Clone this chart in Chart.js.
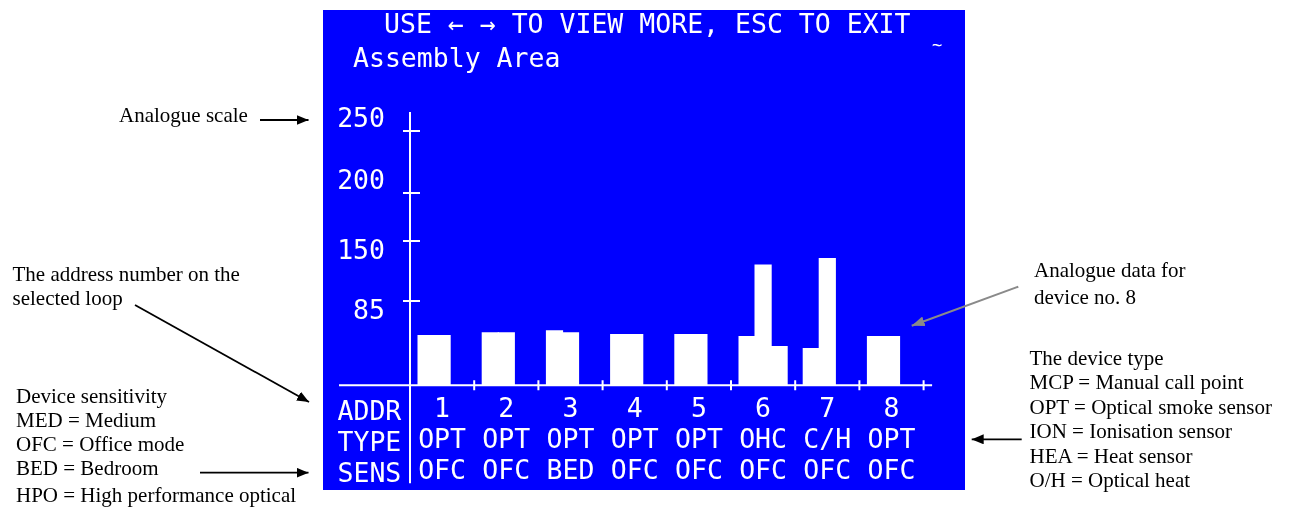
<!DOCTYPE html>
<html>
<head>
<meta charset="utf-8">
<script src="https://cdn.jsdelivr.net/npm/chart.js@4.4.1/dist/chart.umd.min.js"></script>
<style>
html,body{margin:0;padding:0;background:#fff;width:1289px;height:512px;overflow:hidden;position:relative;}
#screen{position:absolute;left:323px;top:10px;width:642px;height:480px;background:#0000ff;}
#chart{position:absolute;left:0;top:0;}
.mono{position:absolute;color:#fff;font-family:"DejaVu Sans Mono",monospace;font-size:26.5px;line-height:31px;white-space:pre;}
.note{position:absolute;color:#000;font-family:"Liberation Serif","Times New Roman",serif;font-size:21px;line-height:24px;white-space:pre;}
svg{position:absolute;left:0;top:0;}
</style>
</head>
<body>
<div id="screen"></div>
<canvas id="chart" width="1289" height="512"></canvas>

<div class="mono" style="left:384px;top:8px;">USE ← → TO VIEW MORE, ESC TO EXIT</div>
<div class="mono" style="left:353px;top:42px;">Assembly Area</div>
<div class="mono" style="left:932px;top:34px;font-size:17px;line-height:22px;">~</div>
<div class="mono" style="left:337.5px;top:394.5px;">ADDR
TYPE
SENS</div>

<div class="note" style="left:119px;top:103px;">Analogue scale</div>
<div class="note" style="left:12.5px;top:262px;">The address number on the
selected loop</div>
<div class="note" style="left:16px;top:384px;">Device sensitivity
MED = Medium
OFC = Office mode
BED = Bedroom</div>
<div class="note" style="left:16px;top:483px;">HPO = High performance optical</div>
<div class="note" style="left:1034px;top:257px;line-height:27px;">Analogue data for
device no. 8</div>
<div class="note" style="left:1029.5px;top:345.6px;line-height:24.5px;">The device type
MCP = Manual call point
OPT = Optical smoke sensor
ION = Ionisation sensor
HEA = Heat sensor
O/H = Optical heat</div>

<svg width="1289" height="512" viewBox="0 0 1289 512">
  <defs>
    <marker id="ah" markerUnits="userSpaceOnUse" markerWidth="12" markerHeight="10" refX="12" refY="5" orient="auto">
      <path d="M0,0 L12,5 L0,10 z" fill="#000"/>
    </marker>
    <marker id="ahg" markerUnits="userSpaceOnUse" markerWidth="13" markerHeight="10" refX="13" refY="5" orient="auto">
      <path d="M0,0 L13,5 L0,10 z" fill="#8a8a8a"/>
    </marker>
  </defs>
  <line x1="260" y1="120" x2="308.5" y2="120" stroke="#000" stroke-width="1.8" marker-end="url(#ah)"/>
  <line x1="135" y1="305" x2="309" y2="402" stroke="#000" stroke-width="1.8" marker-end="url(#ah)"/>
  <line x1="200" y1="472.7" x2="308.5" y2="472.7" stroke="#000" stroke-width="1.8" marker-end="url(#ah)"/>
  <line x1="1018.3" y1="286.7" x2="911.7" y2="325.7" stroke="#8a8a8a" stroke-width="2" marker-end="url(#ahg)"/>
  <line x1="1021.7" y1="439.3" x2="971.7" y2="439.3" stroke="#000" stroke-width="1.8" marker-end="url(#ah)"/>
</svg>

<script>
// ---- data ----
const addresses     = ['1','2','3','4','5','6','7','8'];
const deviceTypes   = ['OPT','OPT','OPT','OPT','OPT','OHC','C/H','OPT'];
const sensitivities = ['OFC','OFC','BED','OFC','OFC','OFC','OFC','OFC'];
const channelA = [50, 53, 55, 51, 51, 49, 37, 49];
const channelB = [50, 53, 53, 51, 51, 124, 131, 49];
const channelC = [null, null, null, null, null, 39, null, null];
const yTickValues = [85, 150, 200, 250];
const yTickLabels = ['85', '150', '200', '250'];
// the panel's analogue scale is not uniform: value breakpoints and their share of the axis height
const scaleBreakValues    = [0, 85, 150, 200, 250];
const scaleBreakFractions = [0, 0.3315, 0.5674, 0.7562, 1];

function valueToFraction(v) {
  const V = scaleBreakValues, F = scaleBreakFractions;
  let i = 0;
  while (i < V.length - 2 && v > V[i + 1]) i++;
  return F[i] + (v - V[i]) * (F[i + 1] - F[i]) / (V[i + 1] - V[i]);
}
function fractionToValue(f) {
  const V = scaleBreakValues, F = scaleBreakFractions;
  let i = 0;
  while (i < F.length - 2 && f > F[i + 1]) i++;
  return V[i] + (f - F[i]) * (V[i + 1] - V[i]) / (F[i + 1] - F[i]);
}

class AnalogueScale extends Chart.LinearScale {
  getPixelForValue(value) { return this.getPixelForDecimal(valueToFraction(value)); }
  getValueForPixel(pixel) { return fractionToValue(this.getDecimalForPixel(pixel)); }
}
AnalogueScale.id = 'analogue';
AnalogueScale.defaults = Chart.LinearScale.defaults;
Chart.register(AnalogueScale);

const screenAxes = {
  id: 'screenAxes',
  afterDatasetsDraw(chart) {
    const { ctx, chartArea: a, scales: { x, y } } = chart;
    ctx.save();
    ctx.strokeStyle = '#ffffff';
    ctx.lineWidth = 2;
    ctx.beginPath();
    ctx.moveTo(a.left, a.top - 19); ctx.lineTo(a.left, a.bottom + 98);
    ctx.moveTo(a.left - 71, a.bottom); ctx.lineTo(a.right + 8.5, a.bottom);
    y.ticks.forEach(t => {
      const py = y.getPixelForValue(t.value);
      ctx.moveTo(a.left - 7, py); ctx.lineTo(a.left + 10, py);
    });
    const half = (x.getPixelForValue(1) - x.getPixelForValue(0)) / 2;
    addresses.forEach((_, i) => {
      const px = x.getPixelForValue(i) + half;
      ctx.moveTo(px, a.bottom - 5); ctx.lineTo(px, a.bottom + 5);
    });
    ctx.stroke();
    ctx.restore();
  }
};

const monoFont = 'DejaVu Sans Mono';
const barStyle = { backgroundColor: '#ffffff', borderColor: '#ffffff', borderWidth: 0, inflateAmount: 0.6, categoryPercentage: 0.7477, barPercentage: 1 };

new Chart(document.getElementById('chart'), {
  type: 'bar',
  data: {
    labels: addresses.map((a, i) => [a, deviceTypes[i], sensitivities[i]]),
    datasets: [
      Object.assign({ label: 'A', data: channelA }, barStyle),
      Object.assign({ label: 'B', data: channelB }, barStyle),
      Object.assign({ label: 'C', data: channelC }, barStyle)
    ]
  },
  options: {
    responsive: false,
    maintainAspectRatio: false,
    animation: false,
    events: [],
    layout: { padding: { left: 330, right: 365.4, top: 131, bottom: 24.7 } },
    plugins: { legend: { display: false }, tooltip: { enabled: false } },
    scales: {
      x: {
        type: 'category',
        offset: true,
        grid: { display: false, drawTicks: false, tickLength: 0 },
        border: { display: false },
        ticks: {
          color: '#ffffff',
          font: { family: monoFont, size: 26.5, lineHeight: '31px' },
          padding: 9, maxRotation: 0, minRotation: 0, autoSkip: false
        },
        afterFit: s => { s.height = 102; }
      },
      y: {
        type: 'analogue',
        min: 0, max: 250,
        grid: { display: false, drawTicks: false, tickLength: 0 },
        border: { display: false },
        afterBuildTicks: s => { s.ticks = yTickValues.map(v => ({ value: v })); },
        ticks: {
          color: '#ffffff',
          font: { family: monoFont, size: 26.5, lineHeight: '22px' },
          padding: 25,
          callback: (v) => {
            const lbl = yTickLabels[yTickValues.indexOf(v)];
            return v >= 200 ? [lbl, ''] : ['', lbl];
          }
        },
        afterFit: s => { s.width = 80; }
      }
    }
  },
  plugins: [screenAxes]
});
</script>
</body>
</html>
